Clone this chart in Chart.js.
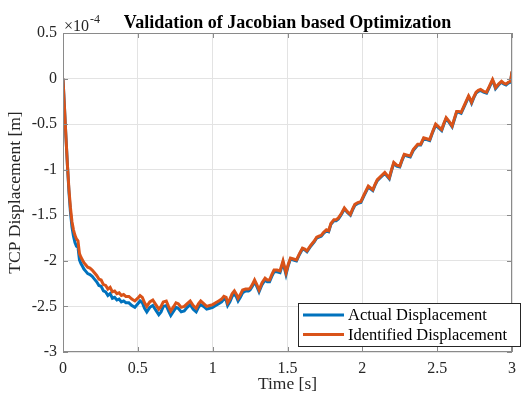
<!DOCTYPE html>
<html>
<head>
<meta charset="utf-8">
<script src="https://cdn.jsdelivr.net/npm/chart.js@4.4.1/dist/chart.umd.min.js"></script>
<style>
html,body{margin:0;padding:0;background:#fff;}
#wrap{width:523px;height:397px;}
</style>
</head>
<body>
<div id="wrap"><canvas id="c" width="523" height="397"></canvas></div>
<script>
// Time [s]
const timeS = [
0,0.01,0.02,0.03,0.04,0.05,0.06,0.07,0.08,0.09,
0.1,0.11,0.12,0.13,0.14,0.15,0.165,0.18,0.195,0.21,
0.225,0.24,0.255,0.27,0.285,0.3,0.315,0.33,0.345,0.36,
0.375,0.39,0.405,0.42,0.44,0.46,0.48,0.5,0.515,0.53,
0.545,0.56,0.58,0.6,0.62,0.64,0.655,0.67,0.69,0.705,
0.72,0.74,0.755,0.77,0.79,0.81,0.83,0.85,0.87,0.89,
0.905,0.92,0.94,0.96,0.98,1.0,1.02,1.04,1.06,1.075,
1.09,1.1,1.115,1.13,1.145,1.16,1.17,1.185,1.2,1.22,
1.24,1.25,1.265,1.28,1.295,1.31,1.33,1.35,1.365,1.38,
1.395,1.41,1.43,1.45,1.47,1.49,1.505,1.52,1.54,1.56,
1.58,1.6,1.615,1.63,1.655,1.68,1.695,1.71,1.725,1.74,
1.76,1.775,1.79,1.81,1.825,1.84,1.86,1.88,1.9,1.92,
1.935,1.95,1.97,1.99,2.01,2.04,2.055,2.07,2.085,2.1,
2.125,2.15,2.165,2.18,2.195,2.21,2.23,2.25,2.265,2.28,
2.3,2.32,2.34,2.37,2.39,2.41,2.43,2.45,2.47,2.49,
2.51,2.53,2.545,2.56,2.58,2.6,2.615,2.63,2.645,2.66,
2.685,2.71,2.72,2.73,2.745,2.76,2.775,2.79,2.81,2.83,
2.85,2.87,2.88,2.89,2.91,2.93,2.945,2.96,2.975,2.99,
3.0];

// Actual displacement [m], in units of 1e-4
const actualDisp = [
0,-0.32,-0.65,-0.96,-1.25,-1.47,-1.63,-1.73,-1.80,-1.84,
-1.85,-1.99,-2.03,-2.06,-2.09,-2.11,-2.14,-2.15,-2.17,-2.20,
-2.23,-2.27,-2.28,-2.33,-2.34,-2.38,-2.36,-2.41,-2.40,-2.43,
-2.42,-2.45,-2.44,-2.46,-2.46,-2.49,-2.51,-2.47,-2.44,-2.46,
-2.52,-2.56,-2.51,-2.49,-2.54,-2.59,-2.56,-2.50,-2.49,-2.55,
-2.60,-2.55,-2.51,-2.52,-2.56,-2.55,-2.51,-2.48,-2.53,-2.56,
-2.51,-2.48,-2.50,-2.53,-2.52,-2.51,-2.49,-2.47,-2.45,-2.42,
-2.43,-2.49,-2.45,-2.39,-2.36,-2.40,-2.44,-2.40,-2.35,-2.33,
-2.33,-2.32,-2.28,-2.23,-2.28,-2.34,-2.26,-2.21,-2.23,-2.23,
-2.17,-2.12,-2.12,-2.13,-2.02,-2.15,-2.05,-1.98,-1.99,-2.00,
-1.93,-1.87,-1.88,-1.90,-1.84,-1.79,-1.75,-1.74,-1.73,-1.70,
-1.67,-1.68,-1.60,-1.56,-1.56,-1.54,-1.49,-1.43,-1.47,-1.50,
-1.44,-1.39,-1.37,-1.36,-1.29,-1.19,-1.21,-1.23,-1.17,-1.12,
-1.08,-1.04,-1.07,-1.10,-1.01,-0.93,-0.96,-0.97,-0.90,-0.84,
-0.85,-0.86,-0.79,-0.73,-0.73,-0.66,-0.67,-0.68,-0.59,-0.51,
-0.54,-0.57,-0.50,-0.44,-0.48,-0.53,-0.45,-0.37,-0.37,-0.38,
-0.29,-0.20,-0.23,-0.27,-0.21,-0.16,-0.14,-0.13,-0.15,-0.16,
-0.09,-0.02,-0.06,-0.11,-0.07,-0.04,-0.06,-0.07,-0.05,-0.04,
0.07];

// Identified displacement [m], in units of 1e-4
const identifiedDisp = [
0,-0.32,-0.65,-0.96,-1.22,-1.42,-1.57,-1.66,-1.72,-1.76,
-1.78,-1.92,-1.96,-1.99,-2.02,-2.04,-2.07,-2.08,-2.10,-2.13,
-2.16,-2.20,-2.21,-2.26,-2.27,-2.31,-2.29,-2.34,-2.33,-2.36,
-2.35,-2.38,-2.37,-2.39,-2.39,-2.42,-2.44,-2.41,-2.38,-2.40,
-2.46,-2.50,-2.45,-2.43,-2.48,-2.53,-2.50,-2.45,-2.44,-2.50,
-2.55,-2.50,-2.46,-2.47,-2.51,-2.50,-2.47,-2.44,-2.49,-2.52,
-2.47,-2.44,-2.47,-2.50,-2.49,-2.48,-2.46,-2.44,-2.42,-2.39,
-2.40,-2.46,-2.42,-2.36,-2.33,-2.37,-2.41,-2.37,-2.32,-2.31,
-2.31,-2.30,-2.26,-2.21,-2.26,-2.32,-2.24,-2.19,-2.21,-2.21,
-2.15,-2.10,-2.10,-2.11,-2.00,-2.13,-2.04,-1.97,-1.98,-1.99,
-1.92,-1.86,-1.87,-1.89,-1.83,-1.78,-1.74,-1.73,-1.72,-1.69,
-1.66,-1.67,-1.59,-1.55,-1.55,-1.53,-1.48,-1.42,-1.46,-1.49,
-1.43,-1.38,-1.36,-1.35,-1.28,-1.18,-1.20,-1.22,-1.16,-1.11,
-1.07,-1.03,-1.06,-1.09,-1.00,-0.92,-0.95,-0.96,-0.89,-0.83,
-0.84,-0.85,-0.78,-0.72,-0.72,-0.65,-0.66,-0.67,-0.58,-0.50,
-0.53,-0.56,-0.49,-0.43,-0.47,-0.52,-0.44,-0.36,-0.36,-0.37,
-0.28,-0.19,-0.22,-0.26,-0.20,-0.15,-0.13,-0.12,-0.14,-0.15,
-0.08,-0.01,-0.05,-0.10,-0.06,-0.03,-0.05,-0.06,-0.04,-0.03,
0.08];

const seriesNames = ['Actual Displacement', 'Identified Displacement'];
const seriesColors = ['#0072BD', '#D95319'];
const xTicks = [0, 0.5, 1, 1.5, 2, 2.5, 3];
const yTicks = [0.5, 0, -0.5, -1, -1.5, -2, -2.5, -3];
const chartTitle = 'Validation of Jacobian based Optimization';
const xTitle = 'Time [s]';
const yTitle = 'TCP Displacement [m]';
const yExponent = '-4';

const SERIF = '"Liberation Serif", "Times New Roman", serif';
const AXIS_COLOR = '#8a8a8a';
const TEXT_COLOR = '#262626';

function pts(xs, ys) { return xs.map((x, i) => ({x: x, y: ys[i]})); }

const decor = {
  id: 'decor',
  afterDatasetsDraw(chart) {
    const ctx = chart.ctx;
    const a = chart.chartArea;
    const xs = chart.scales.x, ys = chart.scales.y;
    ctx.save();
    // frame
    ctx.strokeStyle = AXIS_COLOR;
    ctx.lineWidth = 1;
    ctx.strokeRect(Math.round(a.left) + 0.5, Math.round(a.top) + 0.5,
                   Math.round(a.right - a.left) - 1, Math.round(a.bottom - a.top) - 1);
    // inner ticks
    const tl = 5;
    ctx.beginPath();
    xs.ticks.forEach((t, i) => {
      const px = Math.round(xs.getPixelForTick(i)) + 0.5;
      ctx.moveTo(px, a.bottom); ctx.lineTo(px, a.bottom - tl);
      ctx.moveTo(px, a.top); ctx.lineTo(px, a.top + tl);
    });
    ys.ticks.forEach((t, i) => {
      const py = Math.round(ys.getPixelForTick(i)) + 0.5;
      ctx.moveTo(a.left, py); ctx.lineTo(a.left + tl, py);
      ctx.moveTo(a.right, py); ctx.lineTo(a.right - tl, py);
    });
    ctx.stroke();

    // title
    ctx.fillStyle = '#000';
    ctx.font = 'bold 18px ' + SERIF;
    ctx.textAlign = 'center';
    ctx.textBaseline = 'middle';
    ctx.fillText(chartTitle, (a.left + a.right) / 2, 23);

    // exponent label
    ctx.fillStyle = TEXT_COLOR;
    ctx.textAlign = 'left';
    ctx.textBaseline = 'alphabetic';
    ctx.font = '16px ' + SERIF;
    const base = '\u00d710';
    ctx.fillText(base, a.left + 1, 31);
    const w = ctx.measureText(base).width;
    ctx.font = '12px ' + SERIF;
    ctx.fillText(yExponent, a.left + 1 + w + 1, 23);

    // legend
    const lx = 298, ly = 303, lw = 223, lh = 44;
    ctx.fillStyle = '#fff';
    ctx.fillRect(lx, ly, lw, lh);
    ctx.strokeStyle = '#262626';
    ctx.lineWidth = 1;
    ctx.strokeRect(lx + 0.5, ly + 0.5, lw - 1, lh - 1);
    ctx.font = '16.5px ' + SERIF;
    ctx.textBaseline = 'middle';
    chart.data.datasets.forEach((ds, i) => {
      const yy = ly + 12 + i * 19.5;
      ctx.strokeStyle = ds.borderColor;
      ctx.lineWidth = 3;
      ctx.beginPath();
      ctx.moveTo(lx + 5, yy); ctx.lineTo(lx + 46, yy);
      ctx.stroke();
      ctx.fillStyle = '#000';
      ctx.fillText(ds.label, lx + 50, yy + 1);
    });
    ctx.restore();
  }
};

new Chart(document.getElementById('c'), {
  type: 'line',
  data: {
    datasets: [
      { label: seriesNames[0], data: pts(timeS, actualDisp), borderColor: seriesColors[0],
        backgroundColor: seriesColors[0], borderWidth: 3, pointRadius: 0, tension: 0, order: 1 },
      { label: seriesNames[1], data: pts(timeS, identifiedDisp), borderColor: seriesColors[1],
        backgroundColor: seriesColors[1], borderWidth: 3, pointRadius: 0, tension: 0, order: 0 }
    ]
  },
  options: {
    responsive: false,
    animation: false,
    devicePixelRatio: 1,
    layout: { padding: { top: 33, right: 3, left: 0, bottom: 0 } },
    plugins: { legend: { display: false }, title: { display: false }, tooltip: { enabled: false } },
    scales: {
      x: {
        type: 'linear', min: 0, max: 3,
        afterFit(s) { s.height = 45; },
        afterBuildTicks(s) { s.ticks = xTicks.map(v => ({value: v})); },
        ticks: { padding: 7, color: TEXT_COLOR, font: { family: SERIF, size: 16 },
                 maxRotation: 0, autoSkip: false, callback: v => String(v) },
        grid: { color: '#e3e3e3', drawTicks: false },
        border: { display: false },
        title: { display: true, text: xTitle, color: TEXT_COLOR,
                 font: { family: SERIF, size: 17.5 }, padding: { top: 0, bottom: 2 } }
      },
      y: {
        type: 'linear', min: -3, max: 0.5,
        afterFit(s) { s.width = 63; },
        afterBuildTicks(s) { s.ticks = yTicks.slice().reverse().map(v => ({value: v})); },
        ticks: { padding: 6, color: TEXT_COLOR, font: { family: SERIF, size: 16 },
                 autoSkip: false, callback: v => String(v) },
        grid: { color: '#e3e3e3', drawTicks: false },
        border: { display: false },
        title: { display: true, text: yTitle, color: TEXT_COLOR,
                 font: { family: SERIF, size: 17.5 }, padding: { top: 5, bottom: 0 } }
      }
    }
  },
  plugins: [decor]
});
</script>
</body>
</html>
